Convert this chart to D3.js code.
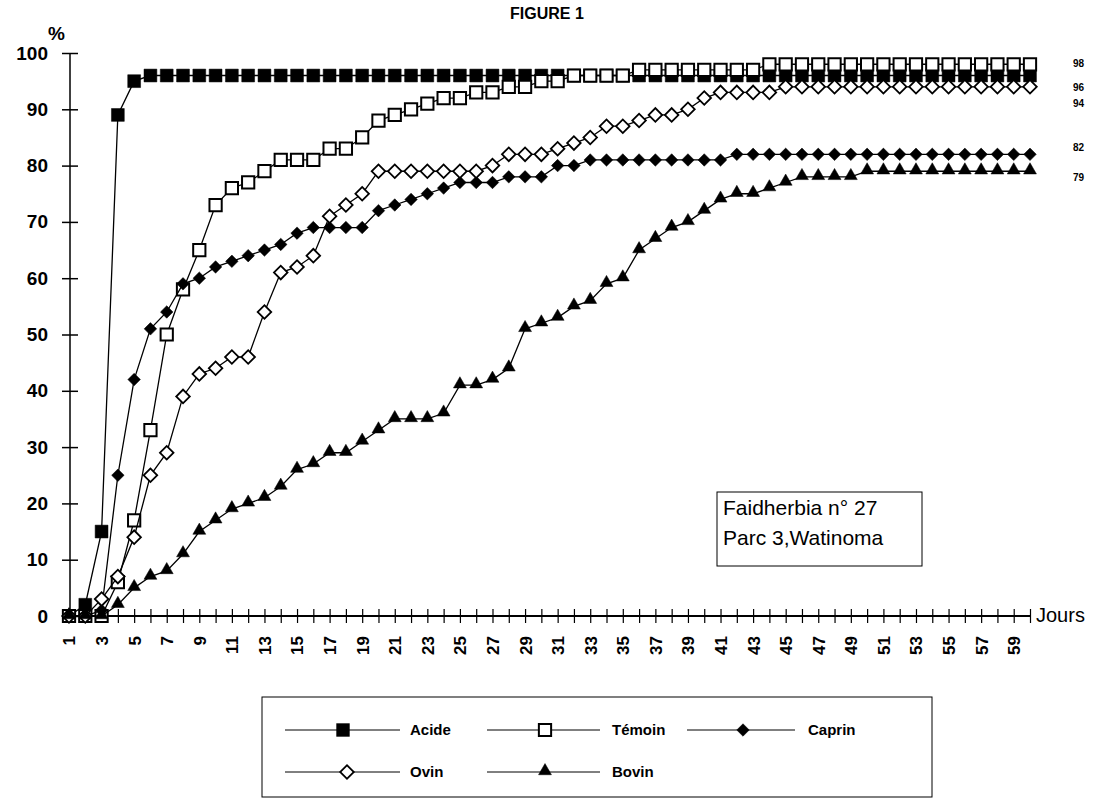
<!DOCTYPE html>
<html><head><meta charset="utf-8">
<script src="https://cdn.jsdelivr.net/npm/d3@7/dist/d3.min.js"></script>
<style>
body{margin:0;background:#fff;}
svg{display:block;font-family:"Liberation Sans",Arial,sans-serif;}
</style></head>
<body>
<svg id="chart" width="1094" height="800"></svg>
<script>
// ---- data ----
const days = [1,2,3,4,5,6,7,8,9,10,11,12,13,14,15,16,17,18,19,20,21,22,23,24,25,26,27,28,29,30,
              31,32,33,34,35,36,37,38,39,40,41,42,43,44,45,46,47,48,49,50,51,52,53,54,55,56,57,58,59,60];
const acide  = [0,2,15,89,95,96,96,96,96,96,96,96,96,96,96,96,96,96,96,96,96,96,96,96,96,96,96,96,96,96,
                96,96,96,96,96,96,96,96,96,96,96,96,96,96,96,96,96,96,96,96,96,96,96,96,96,96,96,96,96,96];
const temoin = [0,0,0,6,17,33,50,58,65,73,76,77,79,81,81,81,83,83,85,88,89,90,91,92,92,93,93,94,94,95,
                95,96,96,96,96,97,97,97,97,97,97,97,97,98,98,98,98,98,98,98,98,98,98,98,98,98,98,98,98,98];
const caprin = [0,0,1,25,42,51,54,59,60,62,63,64,65,66,68,69,69,69,69,72,73,74,75,76,77,77,77,78,78,78,
                80,80,81,81,81,81,81,81,81,81,81,82,82,82,82,82,82,82,82,82,82,82,82,82,82,82,82,82,82,82];
const ovin   = [0,0,3,7,14,25,29,39,43,44,46,46,54,61,62,64,71,73,75,79,79,79,79,79,79,79,80,82,82,82,
                83,84,85,87,87,88,89,89,90,92,93,93,93,93,94,94,94,94,94,94,94,94,94,94,94,94,94,94,94,94];
const bovin  = [0,0,0,2,5,7,8,11,15,17,19,20,21,23,26,27,29,29,31,33,35,35,35,36,41,41,42,44,51,52,
                53,55,56,59,60,65,67,69,70,72,74,75,75,76,77,78,78,78,78,79,79,79,79,79,79,79,79,79,79,79];
const seriesNames = ["Acide","Témoin","Caprin","Ovin","Bovin"];
const yTicks = [0,10,20,30,40,50,60,70,80,90,100];
const xLabelDays = [1,3,5,7,9,11,13,15,17,19,21,23,25,27,29,31,33,35,37,39,41,43,45,47,49,51,53,55,57,59];
const title = "FIGURE 1";
const boxLines = ["Faidherbia n° 27","Parc 3,Watinoma"];

const seriesValues = [acide, temoin, caprin, ovin, bovin];

// ---- styles ----
const markerStyle = [
  {shape:"square",  size:165, fill:"#000", stroke:"#000", sw:0.5},
  {shape:"square",  size:150, fill:"#fff", stroke:"#000", sw:2},
  {shape:"diamond", size:78,  fill:"#000", stroke:"#000", sw:0.5},
  {shape:"diamond", size:92,  fill:"#fff", stroke:"#000", sw:1.8},
  {shape:"triangle",size:72,  fill:"#000", stroke:"#000", sw:0.5}
];

const svg = d3.select("#chart");
const x = d3.scalePoint().domain(days).range([69, 1030]);
const y = d3.scaleLinear().domain([0,100]).range([616, 53]);

function symbolPath(st){
  if(st.shape==="triangle") return d3.symbol().type(d3.symbolTriangle).size(st.size)();
  return d3.symbol().type(d3.symbolSquare).size(st.size)();
}
function symbolTransform(st, px, py){
  let t = `translate(${px},${py})`;
  if(st.shape==="diamond") t += " rotate(45)";
  if(st.shape==="triangle") t += " translate(0,-1)";
  return t;
}

// title
svg.append("text").attr("x",547).attr("y",19).attr("text-anchor","middle")
  .attr("font-size",16).attr("font-weight","bold").text(title);
svg.append("text").attr("x",48).attr("y",40)
  .attr("font-size",19).attr("font-weight","bold").text("%");

// y axis
const yAxis = d3.axisLeft(y).tickValues(yTicks).tickSize(8).tickPadding(14);
const gy = svg.append("g").attr("transform","translate(70,0)").call(yAxis);
gy.select(".domain").attr("stroke","#000").attr("stroke-width",1.5).attr("d","M0,53V616");
gy.selectAll(".tick line").attr("x1",-8).attr("x2",8).attr("stroke","#000").attr("stroke-width",1.5);
gy.selectAll(".tick text").attr("font-size",19).attr("font-weight","bold")
  .attr("font-family","'Liberation Sans',Arial,sans-serif").attr("fill","#000");

// x axis
const xAxis = d3.axisBottom(x).tickValues(days).tickSize(7)
  .tickFormat(d => xLabelDays.includes(d) ? d : "");
const gx = svg.append("g").attr("transform","translate(0,616)").call(xAxis);
gx.select(".domain").attr("stroke","#000").attr("stroke-width",1.8).attr("d","M69,0H1031");
gx.selectAll(".tick line").attr("y1",-7).attr("y2",7).attr("stroke","#000").attr("stroke-width",1.2);
gx.selectAll(".tick text")
  .attr("font-size",17).attr("font-weight","bold")
  .attr("font-family","'Liberation Sans',Arial,sans-serif").attr("fill","#000")
  .attr("text-anchor","end").attr("transform","rotate(-90)")
  .attr("x",-20).attr("y",0).attr("dy","0.35em");
svg.append("text").attr("x",1036).attr("y",622).attr("font-size",20).text("Jours");

// series
const line = d3.line().x((d,i)=>x(days[i])).y(d=>y(d));
seriesValues.forEach((vals,k)=>{
  const st = markerStyle[k];
  const g = svg.append("g");
  g.append("path").attr("d",line(vals)).attr("fill","none").attr("stroke","#000").attr("stroke-width",1.3);
  g.selectAll("path.m").data(vals).join("path").attr("class","m")
    .attr("d",symbolPath(st))
    .attr("transform",(d,i)=>symbolTransform(st, x(days[i]), y(d)))
    .attr("fill",st.fill).attr("stroke",st.stroke).attr("stroke-width",st.sw);
});

// end labels (offsets per series: Acide, Témoin, Caprin, Ovin, Bovin)
const endOffsets = [11.5, -1.3, -7, 16, 6];
seriesValues.forEach((vals,k)=>{
  const v = vals[vals.length-1];
  svg.append("text").attr("x",1073).attr("y",y(v)+endOffsets[k]+4)
    .attr("font-size",10).attr("font-weight","bold").text(v);
});

// annotation box
svg.append("rect").attr("x",717).attr("y",492).attr("width",205).attr("height",74)
  .attr("fill","#fff").attr("stroke","#000").attr("stroke-width",1);
boxLines.forEach((t,i)=>{
  svg.append("text").attr("x",723).attr("y",515+i*30).attr("font-size",21).text(t);
});

// legend
svg.append("rect").attr("x",262).attr("y",697).attr("width",670).attr("height",100)
  .attr("fill","#fff").attr("stroke","#000").attr("stroke-width",1);
const legPos = [
  {x1:285,x2:400,m:343,tx:410,y:730},
  {x1:487,x2:600,m:545,tx:612,y:730},
  {x1:687,x2:795,m:743,tx:808,y:730},
  {x1:285,x2:400,m:347,tx:410,y:772},
  {x1:487,x2:600,m:545,tx:612,y:772}
];
seriesNames.forEach((nm,k)=>{
  const p = legPos[k], st = markerStyle[k];
  svg.append("line").attr("x1",p.x1).attr("x2",p.x2).attr("y1",p.y).attr("y2",p.y)
    .attr("stroke","#000").attr("stroke-width",1);
  svg.append("path").attr("d",symbolPath(st)).attr("transform",symbolTransform(st,p.m,p.y))
    .attr("fill",st.fill).attr("stroke",st.stroke).attr("stroke-width",st.sw);
  svg.append("text").attr("x",p.tx).attr("y",p.y+5).attr("font-size",15).attr("font-weight","bold").text(nm);
});
</script>
</body></html>
